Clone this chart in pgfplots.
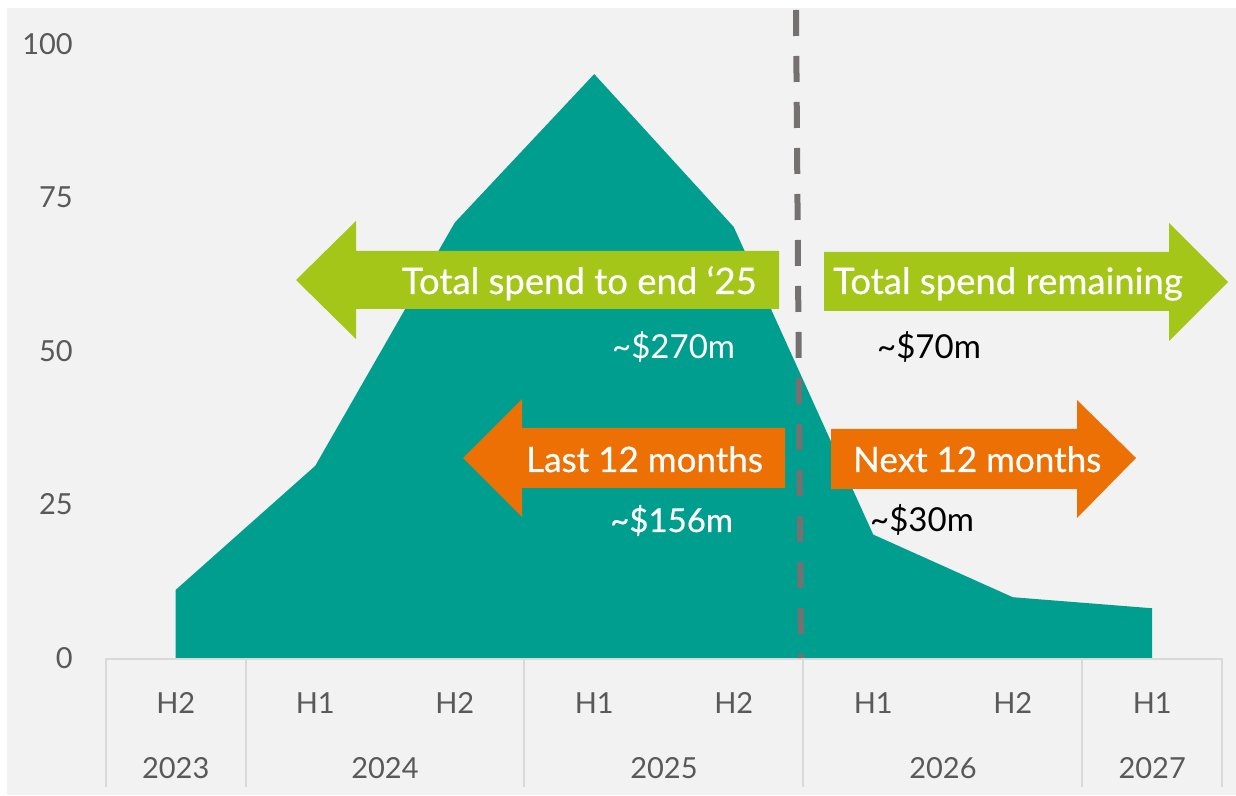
\documentclass[border=0pt]{standalone}
\usepackage{pgfplots}
\pgfplotsset{compat=1.18}
\usepackage{fontspec}
\setmainfont{Lato}
\newfontfamily\latomed[FakeBold=0.5]{Lato}
\definecolor{bg}{HTML}{F2F2F2}
\definecolor{teal1}{HTML}{009E8F}
\definecolor{grn}{HTML}{A4C618}
\definecolor{org}{HTML}{EC7003}
\definecolor{dashc}{HTML}{767171}
\definecolor{tickc}{HTML}{595959}
\definecolor{sepc}{HTML}{D9D9D9}
\begin{document}
\begin{tikzpicture}[x=1pt,y=1pt]
\fill[white] (0,0) rectangle (1236,795);
\fill[bg] (7,0) rectangle (1236,787);
\begin{axis}[at={(106pt,137pt)}, anchor=south west, scale only axis,
  width=1116pt, height=650pt, xmin=-0.5, xmax=7.5, ymin=0, ymax=105.86,
  axis line style={draw=none}, major tick length=0pt,
  ytick={0,25,50,75,100}, xtick={0,...,7},
  xticklabels={H2,H1,H2,H1,H2,H1,H2,H1},
  ticklabel style={font=\fontsize{29}{32}\selectfont, text=tickc},
  yticklabel style={anchor=east, inner sep=0pt, xshift=-33pt},
  xticklabel style={anchor=base, inner sep=0pt, yshift=-55pt},
  /pgf/number format/assume math mode=true,
  clip=false]
\addplot[fill=teal1, draw=none] coordinates {
  (0,11.1) (1,31.3) (2,70.9) (3,95.1) (4,70.2) (5,20.1) (6,9.9) (7,8.1)
} \closedcycle;
\node[anchor=base, inner sep=0pt, font=\fontsize{29}{32}\selectfont, text=tickc] at (axis cs:0,0) [yshift=-120pt] {2023};
\node[anchor=base, inner sep=0pt, font=\fontsize{29}{32}\selectfont, text=tickc] at (axis cs:1.5,0) [yshift=-120pt] {2024};
\node[anchor=base, inner sep=0pt, font=\fontsize{29}{32}\selectfont, text=tickc] at (axis cs:3.5,0) [yshift=-120pt] {2025};
\node[anchor=base, inner sep=0pt, font=\fontsize{29}{32}\selectfont, text=tickc] at (axis cs:5.5,0) [yshift=-120pt] {2026};
\node[anchor=base, inner sep=0pt, font=\fontsize{29}{32}\selectfont, text=tickc] at (axis cs:7,0) [yshift=-120pt] {2027};
\end{axis}
% category separators
\draw[sepc, line width=2pt] (106,136) -- (1222,136);
\foreach \xx in {106,246,524,803,1082,1222} {
  \draw[sepc, line width=2pt] (\xx,137) -- (\xx,8);
}
% dashed divider
\draw[dashc, line width=6pt, dash pattern=on 26pt off 20pt] (796,785) -- (801,137);
% arrows
\fill[grn] (296,515) -- (356,574) -- (356,544) -- (779,544) -- (779,486) -- (356,486) -- (356,456) -- cycle;
\fill[grn] (824,543) -- (1169,543) -- (1169,572) -- (1228,513) -- (1169,454) -- (1169,484) -- (824,484) -- cycle;
\fill[org] (463,337) -- (522,396) -- (522,367) -- (785,367) -- (785,307) -- (522,307) -- (522,278) -- cycle;
\fill[org] (831,366) -- (1077,366) -- (1077,395) -- (1136,337) -- (1077,277) -- (1077,306) -- (831,306) -- cycle;
% texts
\begin{scope}[every node/.style={inner sep=0pt}]
\node[anchor=base east, text=white, font=\latomed\fontsize{36.5}{40}\selectfont] at (757,501) {Total spend to end ‘25};
\node[anchor=base west, text=white, font=\latomed\fontsize{36.5}{40}\selectfont] at (833,501) {Total spend remaining};
\node[anchor=base west, text=white, font=\latomed\fontsize{35}{40}\selectfont] at (526,323) {Last 12 months};
\node[anchor=base west, text=white, font=\latomed\fontsize{35}{40}\selectfont] at (853,323) {Next 12 months};
\node[anchor=base west, text=white, font=\fontsize{33}{38}\selectfont] at (612,436) {\textasciitilde\$270m};
\node[anchor=base west, text=black, font=\fontsize{33}{38}\selectfont] at (877,436) {\textasciitilde\$70m};
\node[anchor=base west, text=white, font=\latomed\fontsize{33}{38}\selectfont] at (610,263) {\textasciitilde\$156m};
\node[anchor=base west, text=black, font=\fontsize{33}{38}\selectfont] at (870,263) {\textasciitilde\$30m};
\end{scope}
\end{tikzpicture}
\end{document}
